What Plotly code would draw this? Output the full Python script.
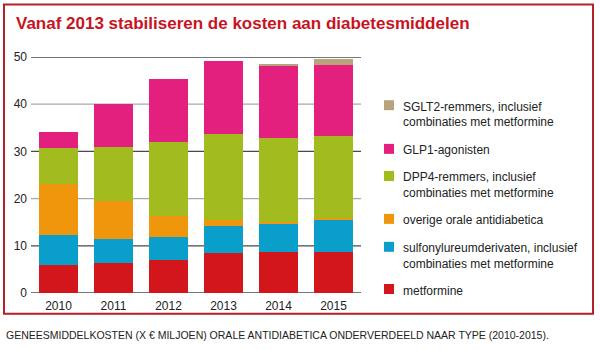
import plotly.graph_objects as go

years = ["2010", "2011", "2012", "2013", "2014", "2015"]
metformine = [6.0, 6.3, 6.9, 8.5, 8.6, 8.7]
sulfonylureum = [6.2, 5.2, 4.9, 5.8, 6.0, 6.8]
overige = [11.0, 7.9, 4.5, 1.1, 0.5, 0.3]
dpp4 = [7.6, 11.5, 15.7, 18.3, 17.8, 17.5]
glp1 = [3.3, 9.2, 13.4, 15.5, 15.2, 15.0]
sglt2 = [0.0, 0.0, 0.0, 0.0, 0.4, 1.2]

series_names = [
    "metformine",
    "sulfonylureumderivaten, inclusief\ncombinaties met metformine",
    "overige orale antidiabetica",
    "DPP4-remmers, inclusief\ncombinaties met metformine",
    "GLP1-agonisten",
    "SGLT2-remmers, inclusief\ncombinaties met metformine",
]
series_values = [metformine, sulfonylureum, overige, dpp4, glp1, sglt2]
series_colors = ["#d3151c", "#0a9ecb", "#f0960c", "#a2bc1f", "#e4207f", "#b8a37c"]

y_ticks = [0, 10, 20, 30, 40, 50]
grid_colors = ["#4a4a4a", "#4a4a4a", "#a8a8a8", "#4a4a4a", "#a8a8a8", "#4a4a4a"]

title_text = "Vanaf 2013 stabiliseren de kosten aan diabetesmiddelen"
caption_text = "GENEESMIDDELKOSTEN (X € MILJOEN) ORALE ANTIDIABETICA ONDERVERDEELD NAAR TYPE (2010-2015)."

W, H = 600, 350
L, R, T, B = 31, 361, 56.7, 293.3

def px_x(x):
    return (x - L) / (R - L)

def px_y(y):
    return (B - y) / (B - T)

SANS = "Liberation Sans, Arial, sans-serif"

fig = go.Figure()
for name, vals, col in zip(series_names, series_values, series_colors):
    fig.add_trace(go.Bar(
        x=years, y=vals, name=name.replace("\n", " "),
        marker=dict(color=col, line=dict(width=0)),
        showlegend=False,
    ))

shapes = []
for t, c in zip(y_ticks, grid_colors):
    shapes.append(dict(type="line", xref="paper", yref="y", x0=0, x1=1, y0=t, y1=t,
                       line=dict(color=c, width=1.3), layer="below"))

# frame
shapes.append(dict(type="rect", xref="paper", yref="paper",
                   x0=px_x(4), x1=px_x(593), y0=px_y(314), y1=px_y(4),
                   line=dict(color="#b5202a", width=2), fillcolor="rgba(0,0,0,0)", layer="above"))

annotations = []
annotations.append(dict(text="<b>" + title_text + "</b>", xref="paper", yref="paper",
                        x=px_x(14), y=px_y(23.5), xanchor="left", yanchor="middle",
                        showarrow=False, font=dict(family=SANS, size=17, color="#c8141e")))
annotations.append(dict(text=caption_text, xref="paper", yref="paper",
                        x=px_x(4), y=px_y(335), xanchor="left", yanchor="middle",
                        showarrow=False, font=dict(family=SANS, size=10.5, color="#222222")))

# legend (custom)
legend_square_y = [289.3, 247, 219, 176, 148.8, 105]
for name, col, sy in zip(series_names, series_colors, legend_square_y):
    shapes.append(dict(type="rect", xref="paper", yref="paper",
                       x0=px_x(384), x1=px_x(394), y0=px_y(sy + 5), y1=px_y(sy - 5),
                       fillcolor=col, line=dict(width=0)))
    for i, line in enumerate(name.split("\n")):
        ly = sy + 1.5 + i * 15.5
        annotations.append(dict(text=line, xref="paper", yref="paper",
                                x=px_x(401), y=px_y(ly), xanchor="left", yanchor="middle",
                                showarrow=False,
                                font=dict(family=SANS, size=12, color="#222222")))

fig.update_layout(
    width=W, height=H,
    margin=dict(l=L, r=W - R, t=T, b=H - B, pad=0),
    barmode="stack", bargap=0.28,
    plot_bgcolor="white", paper_bgcolor="white",
    shapes=shapes, annotations=annotations,
    xaxis=dict(range=[-0.5, 5.5], showgrid=False, showline=False, zeroline=False,
               ticks="", tickfont=dict(family=SANS, size=12, color="#222222"),
               ticklabelstandoff=4),
    yaxis=dict(range=[0, 50], tickvals=y_ticks, showgrid=False, zeroline=False,
               showline=False, ticks="", tickfont=dict(family=SANS, size=12, color="#222222"),
               ticklabelstandoff=3),
)

fig.write_html("out.html")
